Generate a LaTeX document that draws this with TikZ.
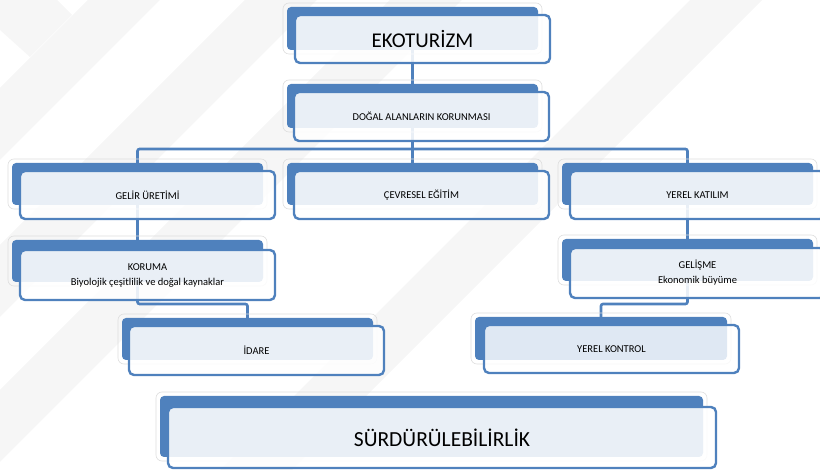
\documentclass[tikz,border=0pt]{standalone}
\usepackage{fontspec}
\setmainfont{Carlito}
\usetikzlibrary{positioning,backgrounds}
\definecolor{ecoblue}{HTML}{4F81BD}

\begin{document}
\begin{tikzpicture}[x=1pt,y=-1pt,font=\fontsize{10.5}{15}\selectfont,
   tab/.style={fill=ecoblue,rounded corners=4pt,inner sep=0pt,outer sep=0pt,
      minimum width=251pt,minimum height=43pt},
   face/.style={draw=ecoblue,line width=2.4pt,rounded corners=5pt,fill=white,
      fill opacity=.88,text opacity=1,inner sep=0pt,outer sep=0pt,
      minimum width=255pt,minimum height=48pt,align=center},
   halo/.style={draw=black!13,line width=.6pt,rounded corners=6pt},
   link/.style={draw=ecoblue,line width=2.6pt,rounded corners=2pt}]
   \useasboundingbox (0,0) rectangle (820,470);
   % Top
   \node[tab] (eko) at (412.5,28.5) {};
   \node[face,below right=8pt and 8pt of eko.north west,font=\fontsize{21}{24}\selectfont] (ekoF) {EKOTURİZM};
   \node[tab,minimum height=44pt] (dogal) at (412.5,106) {};
   \node[face,below right=8pt and 7pt of dogal.north west,minimum height=49pt] (dogalF) {DOĞAL ALANLARIN KORUNMASI};
   % Middle row
   \node[tab,minimum height=42pt] (gelir) at (137.5,184) {};
   \node[face,below right=8pt and 8pt of gelir.north west] (gelirF) {GELİR ÜRETİMİ};
   \node[tab,minimum height=42pt] (cevre) at (412.5,184) {};
   \node[face,below right=8pt and 7pt of cevre.north west] (cevreF) {ÇEVRESEL EĞİTİM};
   \node[tab,minimum height=42pt] (yerel) at (687.5,184) {};
   \node[face,below right=8pt and 8pt of yerel.north west] (yerelF) {YEREL KATILIM};
   % Left branch
   \node[tab,minimum height=42pt] (koruma) at (137.5,261) {};
   \node[face,below right=10pt and 8pt of koruma.north west,minimum height=50pt] (korumaF) {KORUMA\\Biyolojik çeşitlilik ve doğal kaynaklar};
   \node[tab,minimum height=42pt] (idare) at (247.5,339) {};
   \node[face,below right=8pt and 7pt of idare.north west,minimum height=49pt] (idareF) {İDARE};
   % Right branch
   \node[tab,minimum height=42pt] (gelisme) at (687.5,260) {};
   \node[face,below right=9pt and 8pt of gelisme.north west,minimum height=50pt] (gelismeF) {GELİŞME\\Ekonomik büyüme};
   \node[tab,minimum width=252pt] (kontrol) at (601,338.5) {};
   \node[face,below right=8pt and 9pt of kontrol.north west,fill opacity=.82] (kontrolF) {YEREL KONTROL};
   % Bottom
   \node[tab,minimum width=543pt,minimum height=61pt] (surdur) at (431.5,426.5) {};
   \node[face,below right=11pt and 8pt of surdur.north west,minimum width=548pt,minimum height=61pt,
      font=\fontsize{21.5}{24}\selectfont] (surdurF) {SÜRDÜRÜLEBİLİRLİK};
   % Watermark, links and halos behind the boxes
   \begin{scope}[on background layer]
      \begin{scope}
         \clip (0,0) rectangle (820,470);
         \foreach \c in {88,245,390,690}
            \fill[black!3.5] (\c,0) -- (\c+72,0) -- (\c+72-470,470) -- (\c-470,470) -- cycle;
         \fill[black!3.5] (0,0) -- (57,0) -- (72,15) -- (30,57) -- (0,30) -- cycle;
      \end{scope}
      \draw[link] (eko) -- (dogal);
      \draw[link] (dogal) -- ++(0,43) coordinate (bus);
      \draw[link] (gelir) |- (bus) -| (yerel);
      \draw[link] (bus) -- (cevre);
      \draw[link] (gelir) -- (koruma);
      \draw[link] (koruma) -- ++(0,43) -| (idare);
      \draw[link] (yerel) -- (gelisme);
      \draw[link] (gelisme) -- ++(0,44) -| (kontrol);
      \foreach \n in {eko,dogal,gelir,cevre,yerel,koruma,idare,gelisme,kontrol,surdur}
         \draw[halo] ([shift={(-4,-4)}]\n.north west) rectangle ([shift={(4,4)}]\n.south east);
   \end{scope}
\end{tikzpicture}
\end{document}
